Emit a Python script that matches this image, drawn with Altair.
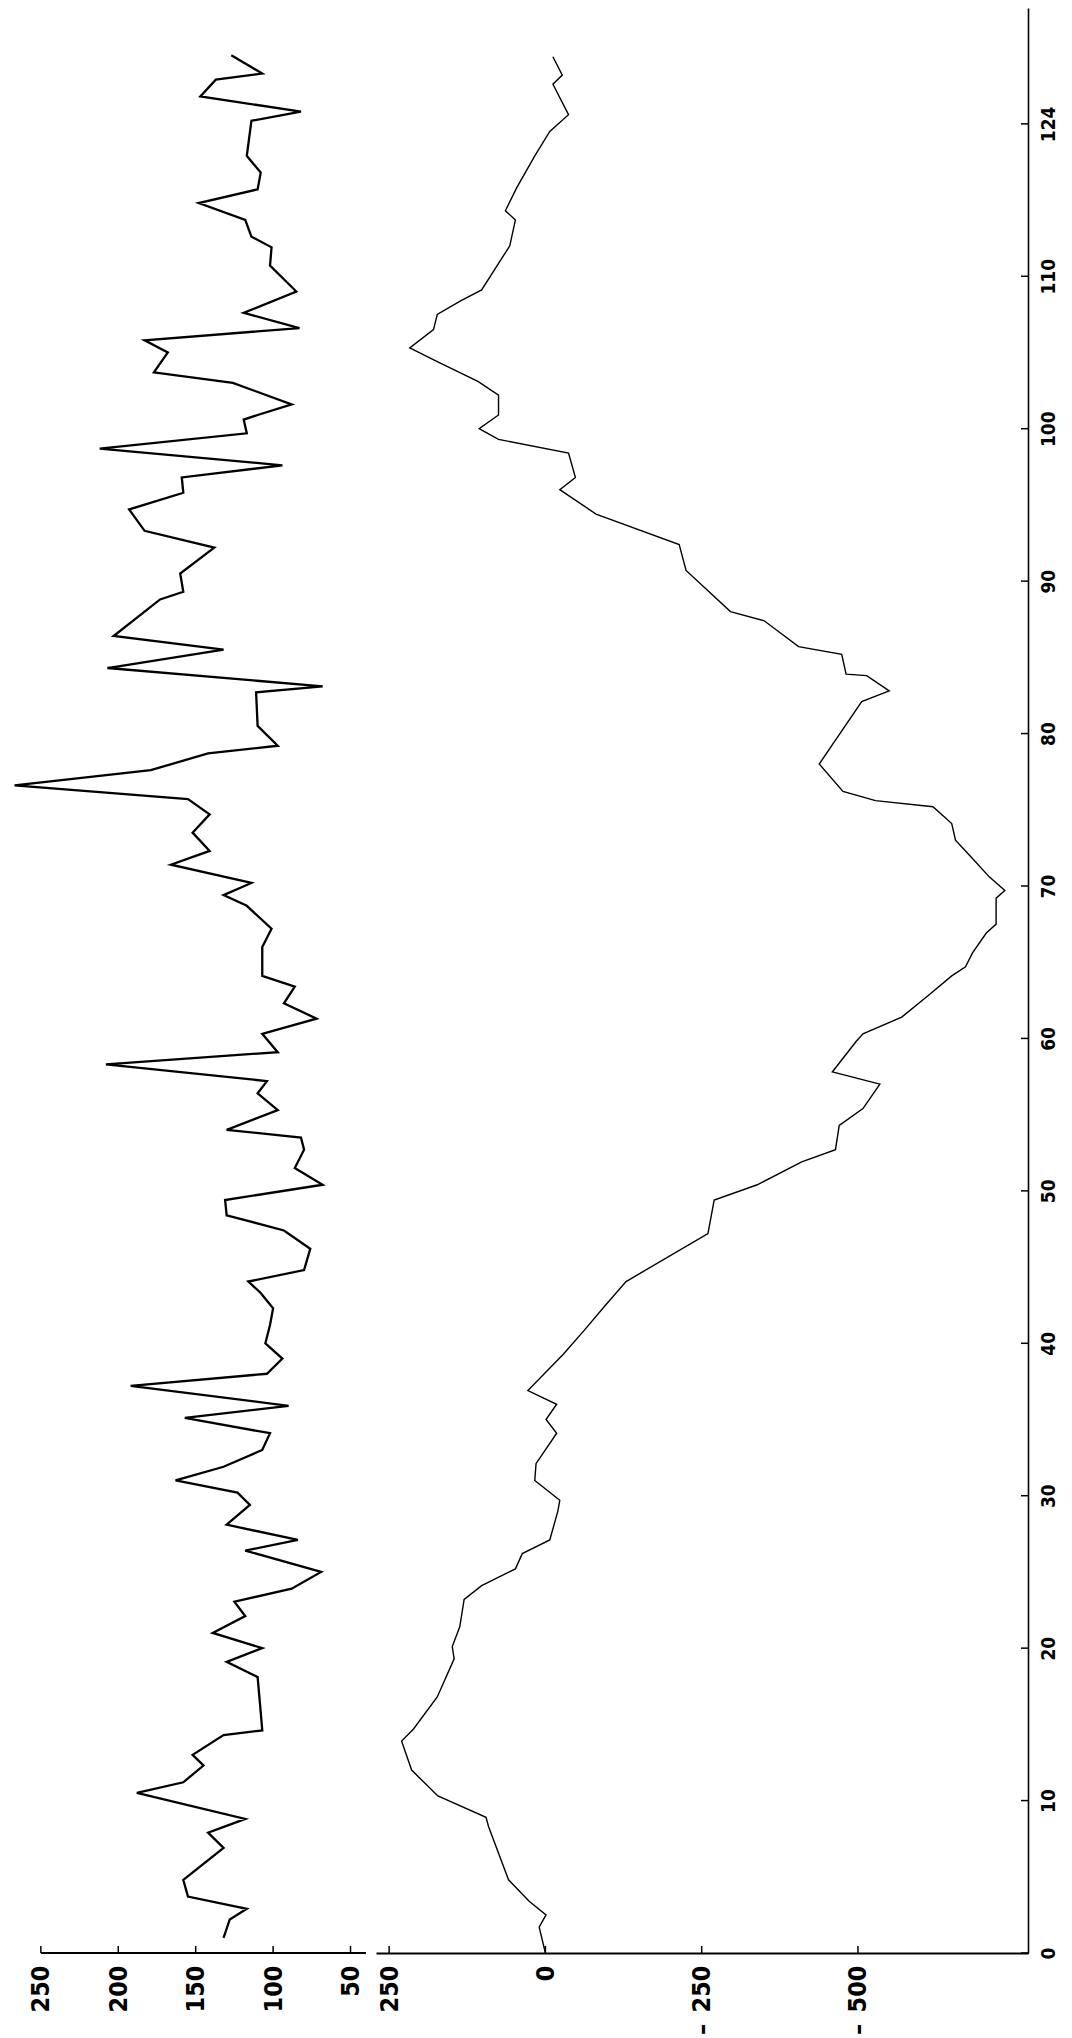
import altair as alt
import pandas as pd

# ---- data ----
upper_idx = [1.0, 2.2, 2.9, 3.7, 4.8, 6.9, 7.9, 8.8, 10.5, 11.2, 12.3, 13.0, 14.3, 14.6, 15.8,
             18.1, 19.1, 20.0, 21.0, 22.1, 23.05, 23.9, 25.0, 26.4, 27.1, 28.1, 29.4, 30.2, 31.0,
             31.9, 33.0, 34.1, 35.1, 35.9, 37.2, 38.0, 39.0, 40.0, 41.2, 42.3, 43.3, 44.05, 44.8,
             46.2, 47.4, 48.4, 49.4, 50.4, 51.5, 52.7, 53.5, 54.0, 55.3, 56.4, 57.2, 58.3, 59.1,
             60.3, 61.3, 62.3, 63.4, 64.1, 66.0, 67.2, 68.7, 69.4, 70.2, 71.4, 72.3, 73.5, 74.7,
             75.7, 76.6, 77.6, 78.7, 79.2, 80.5, 82.7, 83.1, 84.3, 85.5, 86.4, 88.8, 89.3, 90.5,
             92.2, 93.3, 94.7, 95.8, 96.8, 97.6, 98.7, 99.7, 100.6, 100.9, 101.6, 103.0, 103.7,
             105.0, 105.8, 106.6, 107.6, 109.0, 110.7, 111.9, 112.6, 113.7, 114.8, 115.7, 116.8,
             117.9, 120.2, 120.8, 121.8, 122.9, 123.3, 124.5]
upper_val = [132, 128, 117, 155, 158, 132, 142, 118, 188, 158, 145, 152, 132, 107, 108,
             110, 130, 107, 139, 118, 125, 88, 69, 118, 84, 130, 115, 123, 163,
             132, 107, 102, 157, 90, 192, 104, 94, 105, 102, 100, 108, 116, 80,
             76, 93, 130, 131, 68, 86, 80, 82, 130, 97, 110, 104, 208, 97,
             107, 72, 93, 86, 107, 107, 101, 117, 132, 114, 166, 141, 152, 141,
             155, 267, 179, 142, 97, 110, 111, 68, 207, 132, 203, 173, 158, 160,
             138, 183, 193, 158, 159, 94, 212, 117, 119, 110, 88, 126, 177,
             168, 183, 83, 119, 85, 102, 101, 114, 118, 148, 110, 108,
             117, 114, 82, 147, 137, 107, 127]

lower_idx = [0, 1.7, 2.5, 3.4, 4.8, 8.3, 8.9, 10.3, 12.0, 13.9, 14.7, 16.8, 19.3, 20.1, 21.4,
             23.2, 24.1, 25.2, 26.2, 27.1, 29.0, 29.7, 31.0, 32.1, 34.1, 35.0, 36.0, 36.9, 39.3,
             40.8, 42.4, 44.05, 47.2, 49.4, 50.4, 51.9, 52.7, 54.3, 55.4, 57.0, 57.8, 59.8, 60.3,
             61.4, 62.8, 64.1, 64.7, 65.6, 66.9, 67.5, 69.2, 69.7, 70.6, 71.9, 73.0, 74.1, 75.2,
             75.6, 76.2, 78.0, 82.1, 82.8, 83.8, 83.9, 85.2, 85.7, 87.4, 88.0, 90.7, 92.4, 94.4,
             96.0, 96.8, 98.4, 99.3, 100.0, 100.9, 102.2, 103.1, 104.4, 105.3, 106.5, 107.5,
             108.4, 109.1, 112.0, 113.7, 114.3, 115.8, 117.9, 119.5, 120.6, 122.6, 123.2, 124.4]
lower_val = [0, 10, -1, 26, 59, 91, 95, 172, 214, 230, 211, 173, 146, 149, 137,
             130, 102, 48, 37, -7, -20, -23, 17, 15, -18, -1, -18, 28, -29,
             -61, -94, -129, -260, -270, -339, -410, -464, -470, -508, -535, -459, -497, -508,
             -570, -612, -650, -672, -683, -705, -721, -721, -735, -710, -681, -656, -650, -620,
             -528, -476, -438, -506, -550, -514, -481, -474, -405, -350, -296, -225, -214, -81,
             -23, -48, -37, 75, 106, 75, 75, 108, 173, 217, 179, 173,
             135, 102, 57, 48, 64, 46, 17, -7, -37, -12, -27, -12]

upper_ticks = [250, 200, 150, 100, 50]
lower_ticks = [250, 0, -250, -500]
index_ticks = [0, 10, 20, 30, 40, 50, 60, 70, 80, 90, 100, 110, 120]
index_labels = ["0", "10", "20", "30", "40", "50", "60", "70", "80", "90", "100", "110", "124"]

# ---- styling ----
H = 1945
WU = 353
WL = 652
FONT = "'Liberation Sans Narrow', 'DejaVu Sans Condensed', 'Arial Narrow', 'Roboto', sans-serif"

yscale = alt.Scale(domain=[0, 127.6], nice=False, zero=False)
xs_up = alt.Scale(domain=[40, 268], reverse=True, nice=False, zero=False)
xs_lo = alt.Scale(domain=[-772, 271], reverse=True, nice=False, zero=False)

def bottom_axis(values, domain, label_expr=None):
    kw = dict(values=values, title=None, domain=domain, domainColor="black", domainWidth=2,
              ticks=False, grid=False, labelAngle=270, labelAlign="right",
              labelBaseline="middle", labelPadding=12, labelFont=FONT, labelFontSize=25,
              labelFontWeight="bold", labelColor="black", labelOverlap=False,
              labelFlush=False)
    if label_expr:
        kw["labelExpr"] = label_expr
    return alt.Axis(**kw)

ax_up = bottom_axis(upper_ticks, False)
ax_lo = bottom_axis(lower_ticks, True,
                    "datum.value < 0 ? '\u2013\u2002' + format(-datum.value, 'd') : datum.label")

lab_map = "{" + ",".join(f"'{t}':'{l}'" for t, l in zip(index_ticks, index_labels)) + "}"
ax_idx = alt.Axis(values=index_ticks, orient="right", title=None, domain=True,
                  domainColor="black", domainWidth=1.6, ticks=False, grid=False,
                  labelAngle=270, labelAlign="center", labelBaseline="middle",
                  labelPadding=20, labelFont=FONT, labelFontSize=19,
                  labelFontWeight="bold", labelColor="black", labelOverlap=False,
                  labelFlush=False,
                  labelExpr=f"{lab_map}[datum.value + '']")

df_up = pd.DataFrame({"i": upper_idx, "v": upper_val})
df_lo = pd.DataFrame({"i": lower_idx, "v": lower_val})

# upper panel (left in the picture)
up_line = alt.Chart(df_up).mark_line(color="black", strokeWidth=2.3, clip=False).encode(
    x=alt.X("v:Q", scale=xs_up, axis=ax_up),
    y=alt.Y("i:Q", scale=yscale, axis=None),
    order="i:Q",
)
up_base = alt.Chart(pd.DataFrame({"a": [upper_ticks[0]], "b": [40]})).mark_rule(
    color="black", strokeWidth=2).encode(
    x=alt.X("a:Q", scale=xs_up, axis=ax_up), x2="b:Q", y=alt.value(H))
up_ticks = alt.Chart(pd.DataFrame({"t": upper_ticks})).mark_rule(
    color="black", strokeWidth=1.5).encode(
    x=alt.X("t:Q", scale=xs_up, axis=ax_up), y=alt.value(H - 7), y2=alt.value(H))
upper = alt.layer(up_base, up_ticks, up_line).properties(width=WU, height=H)

# lower panel (right in the picture)
lo_line = alt.Chart(df_lo).mark_line(color="black", strokeWidth=1.4, clip=False).encode(
    x=alt.X("v:Q", scale=xs_lo, axis=ax_lo),
    y=alt.Y("i:Q", scale=yscale, axis=ax_idx),
    order="i:Q",
)
lo_ticks = alt.Chart(pd.DataFrame({"t": lower_ticks})).mark_rule(
    color="black", strokeWidth=1.5).encode(
    x=alt.X("t:Q", scale=xs_lo, axis=ax_lo), y=alt.value(H - 7), y2=alt.value(H))
idx_ticks = alt.Chart(pd.DataFrame({"t": index_ticks})).mark_rule(
    color="black", strokeWidth=1.5).encode(
    y=alt.Y("t:Q", scale=yscale, axis=ax_idx), x=alt.value(WL - 7), x2=alt.value(WL + 1))
lower = alt.layer(lo_ticks, idx_ticks, lo_line).properties(width=WL, height=H)

chart = alt.hconcat(upper, lower, spacing=9).properties(
    padding={"left": 1, "top": 0, "right": 4, "bottom": 0},
    background="white",
).configure_view(stroke=None)

chart.save("out.html", embed_options={"renderer": "svg", "actions": False})
